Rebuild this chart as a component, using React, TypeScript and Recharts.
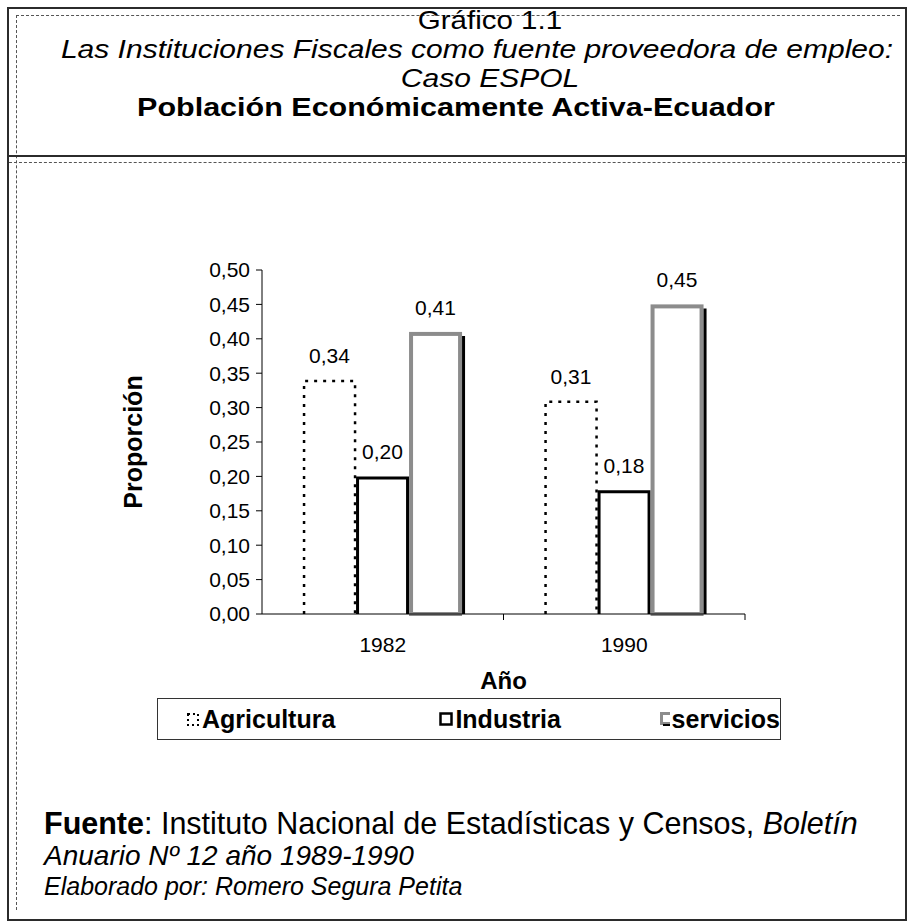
import React from 'react';
import { BarChart, Bar, XAxis, YAxis, Legend, LabelList } from 'recharts';

const years = ['1982', '1990'];
const agricultura = [0.34, 0.31];
const industria = [0.2, 0.18];
const servicios = [0.41, 0.45];
const yTicks = [0, 0.05, 0.1, 0.15, 0.2, 0.25, 0.3, 0.35, 0.4, 0.45, 0.5];
const seriesNames = ['Agricultura', 'Industria', 'servicios'];

const data = years.map((year, i) => ({
  year,
  agricultura: agricultura[i],
  industria: industria[i],
  servicios: servicios[i],
}));

const FONT = '"Liberation Sans", Arial, Helvetica, sans-serif';
const fmt = (v: any) => Number(v).toFixed(2).replace('.', ',');

const AgriShape = (p: any) => {
  const { x, y, width, height } = p;
  if (!height) return null;
  return (
    <path
      d={`M${x + 1},${y + height} L${x + 1},${y + 1} L${x + width - 1},${y + 1} L${x + width - 1},${y + height}`}
      fill="#fff"
      stroke="#000"
      strokeWidth={2.5}
      strokeDasharray="3 6"
    />
  );
};

const IndShape = (p: any) => {
  const { x, y, width, height } = p;
  if (!height) return null;
  return (
    <path
      d={`M${x + 1.5},${y + height} L${x + 1.5},${y + 1.5} L${x + width - 1.5},${y + 1.5} L${x + width - 1.5},${y + height}`}
      fill="#fff"
      stroke="#000"
      strokeWidth={3}
    />
  );
};

const ServShape = (p: any) => {
  const { x, y, width, height } = p;
  if (!height) return null;
  return (
    <g>
      <rect x={x + 2} y={y + 2} width={width - 4} height={height - 2} fill="#fff" stroke="#8c8c8c" strokeWidth={4} />
      <line x1={x + width + 1.5} x2={x + width + 1.5} y1={y + 4} y2={y + height} stroke="#000" strokeWidth={3} />
    </g>
  );
};

const XTick = (props: any) => {
  const { x, y, payload } = props;
  const off = payload && payload.offset ? payload.offset : 0;
  return (
    <g>
      {off ? <line x1={x + off} x2={x + off} y1={y} y2={y + 6} stroke="#000" strokeWidth={1} /> : null}
      <text x={x} y={y + 38} textAnchor="middle" fontFamily={FONT} fontSize={21} fill="#000">
        {payload.value}
      </text>
    </g>
  );
};

const YTitle = (props: any) => {
  const vb = props.viewBox || { x: 0, y: 108, width: 262, height: 344 };
  const cx = vb.x + 133;
  const cy = vb.y + vb.height / 2;
  return (
    <text
      x={cx}
      y={cy}
      transform={`rotate(-90 ${cx} ${cy})`}
      textAnchor="middle"
      dominantBaseline="central"
      fontFamily={FONT}
      fontWeight="bold"
      fontSize={25}
      fill="#000"
    >
      Proporción
    </text>
  );
};

const XTitle = (props: any) => {
  const vb = props.viewBox || { x: 262, y: 452, width: 483, height: 90 };
  return (
    <text x={vb.x + vb.width / 2} y={vb.y + 75} textAnchor="middle" fontFamily={FONT} fontWeight="bold" fontSize={24} fill="#000">
      Año
    </text>
  );
};

const Marker = ({ kind }: { kind: number }) => {
  if (kind === 0) {
    return (
      <svg width={13} height={15} style={{ display: 'block' }}>
        <rect x={1} y={2} width={10} height={11} fill="#fff" stroke="#000" strokeWidth={2} strokeDasharray="2 3" />
      </svg>
    );
  }
  if (kind === 1) {
    return (
      <svg width={14} height={15} style={{ display: 'block' }}>
        <rect x={1.5} y={1.5} width={11} height={11} fill="#fff" stroke="#000" strokeWidth={2.5} />
      </svg>
    );
  }
  return (
    <svg width={14} height={15} style={{ display: 'block' }}>
      <rect x={1.5} y={1.5} width={10} height={10} fill="#fff" stroke="#8c8c8c" strokeWidth={3} />
      <line x1={13} x2={13} y1={3} y2={14} stroke="#000" strokeWidth={2} />
      <line x1={3} x2={14} y1={13} y2={13} stroke="#000" strokeWidth={2} />
    </svg>
  );
};

const itemWidths = [254, 222, 120];

const LegendBox = () => (
  <div
    style={{
      boxSizing: 'border-box',
      width: '100%',
      height: '100%',
      border: '1.5px solid #333',
      display: 'flex',
      alignItems: 'center',
      paddingLeft: 29,
      fontFamily: FONT,
      fontWeight: 'bold',
      fontSize: 25,
      color: '#000',
    }}
  >
    {seriesNames.map((n, i) => (
      <div key={n} style={{ display: 'flex', alignItems: 'center', width: itemWidths[i] }}>
        <Marker kind={i} />
        <span style={{ marginLeft: 2, whiteSpace: 'nowrap' }}>{n}</span>
      </div>
    ))}
  </div>
);

const titleLine = (center: number, top: number, size: number) => ({
  position: 'absolute' as const,
  left: center - 450,
  top,
  width: 900,
  height: 27,
  textAlign: 'center' as const,
  whiteSpace: 'nowrap' as const,
  lineHeight: '27px',
  fontSize: 25.5,
  transform: `scaleX(${size / 25.5})`,
  transformOrigin: '50% 50%',
});

export default function App() {
  return (
    <div style={{ position: 'absolute', left: 0, top: 0, width: 912, height: 924, background: '#fff', fontFamily: FONT, color: '#000', overflow: 'hidden' }}>
      {/* outer frame */}
      <div style={{ position: 'absolute', left: 7, top: 7, width: 896, height: 910, border: '2px solid #2b2b2b' }} />
      <div style={{ position: 'absolute', left: 16, top: 15, width: 884, borderTop: '1px dashed #555' }} />
      <div style={{ position: 'absolute', left: 16, top: 15, height: 895, borderLeft: '1px dashed #555' }} />
      <div style={{ position: 'absolute', left: 7, top: 155, width: 900, borderTop: '2px solid #2b2b2b' }} />
      <div style={{ position: 'absolute', left: 9, top: 162, width: 896, borderTop: '1px dashed #555' }} />

      {/* title */}
      <div style={titleLine(490, 7, 29.5)}>Gráfico 1.1</div>
      <div style={{ ...titleLine(477, 36, 30), fontStyle: 'italic' }}>Las Instituciones Fiscales como fuente proveedora de empleo:</div>
      <div style={{ ...titleLine(490, 65, 30), fontStyle: 'italic' }}>Caso ESPOL</div>
      <div style={{ ...titleLine(456, 94, 30.5), fontWeight: 'bold' }}>Población Económicamente Activa-Ecuador</div>

      {/* chart */}
      <div style={{ position: 'absolute', left: 0, top: 162 }}>
        <BarChart
          width={912}
          height={600}
          data={data}
          margin={{ top: 108, right: 167, bottom: 58, left: 0 }}
          barCategoryGap="17%"
          barGap={0}
        >
          <XAxis
            dataKey="year"
            height={90}
            tickLine={false}
            tickSize={0}
            tickMargin={0}
            axisLine={{ stroke: '#000', strokeWidth: 1 }}
            tick={<XTick />}
            label={<XTitle />}
          />
          <YAxis
            width={262}
            domain={[0, 0.5]}
            ticks={yTicks}
            interval={0}
            tickFormatter={fmt}
            tickSize={6}
            tickMargin={6}
            tickLine={{ stroke: '#000' }}
            axisLine={{ stroke: '#000', strokeWidth: 1 }}
            tick={{ fontFamily: FONT, fontSize: 21, fill: '#000' }}
            label={<YTitle />}
          />
          <Legend
            layout="horizontal"
            verticalAlign="middle"
            align="center"
            content={<LegendBox />}
            wrapperStyle={{ left: 157, top: 536, width: 624, height: 42 }}
          />
          <Bar dataKey="agricultura" name={seriesNames[0]} shape={<AgriShape />} isAnimationActive={false}>
            <LabelList dataKey="agricultura" position="top" offset={17} formatter={fmt} style={{ fontFamily: FONT, fontSize: 21, fill: '#000' }} />
          </Bar>
          <Bar dataKey="industria" name={seriesNames[1]} shape={<IndShape />} isAnimationActive={false}>
            <LabelList dataKey="industria" position="top" offset={17} formatter={fmt} style={{ fontFamily: FONT, fontSize: 21, fill: '#000' }} />
          </Bar>
          <Bar dataKey="servicios" name={seriesNames[2]} shape={<ServShape />} isAnimationActive={false}>
            <LabelList dataKey="servicios" position="top" offset={17} formatter={fmt} style={{ fontFamily: FONT, fontSize: 21, fill: '#000' }} />
          </Bar>
        </BarChart>
      </div>

      {/* footer */}
      <div style={{ position: 'absolute', left: 44, top: 806, whiteSpace: 'nowrap' }}>
        <div style={{ fontSize: 30.5, lineHeight: '34px' }}>
          <b>Fuente</b>: Instituto Nacional de Estadísticas y Censos, <i>Boletín</i>
        </div>
        <div style={{ fontSize: 28, lineHeight: '32px', fontStyle: 'italic' }}>Anuario Nº 12 año 1989-1990</div>
        <div style={{ fontSize: 25, lineHeight: '28px', fontStyle: 'italic' }}>Elaborado por: Romero Segura Petita</div>
      </div>
    </div>
  );
}
